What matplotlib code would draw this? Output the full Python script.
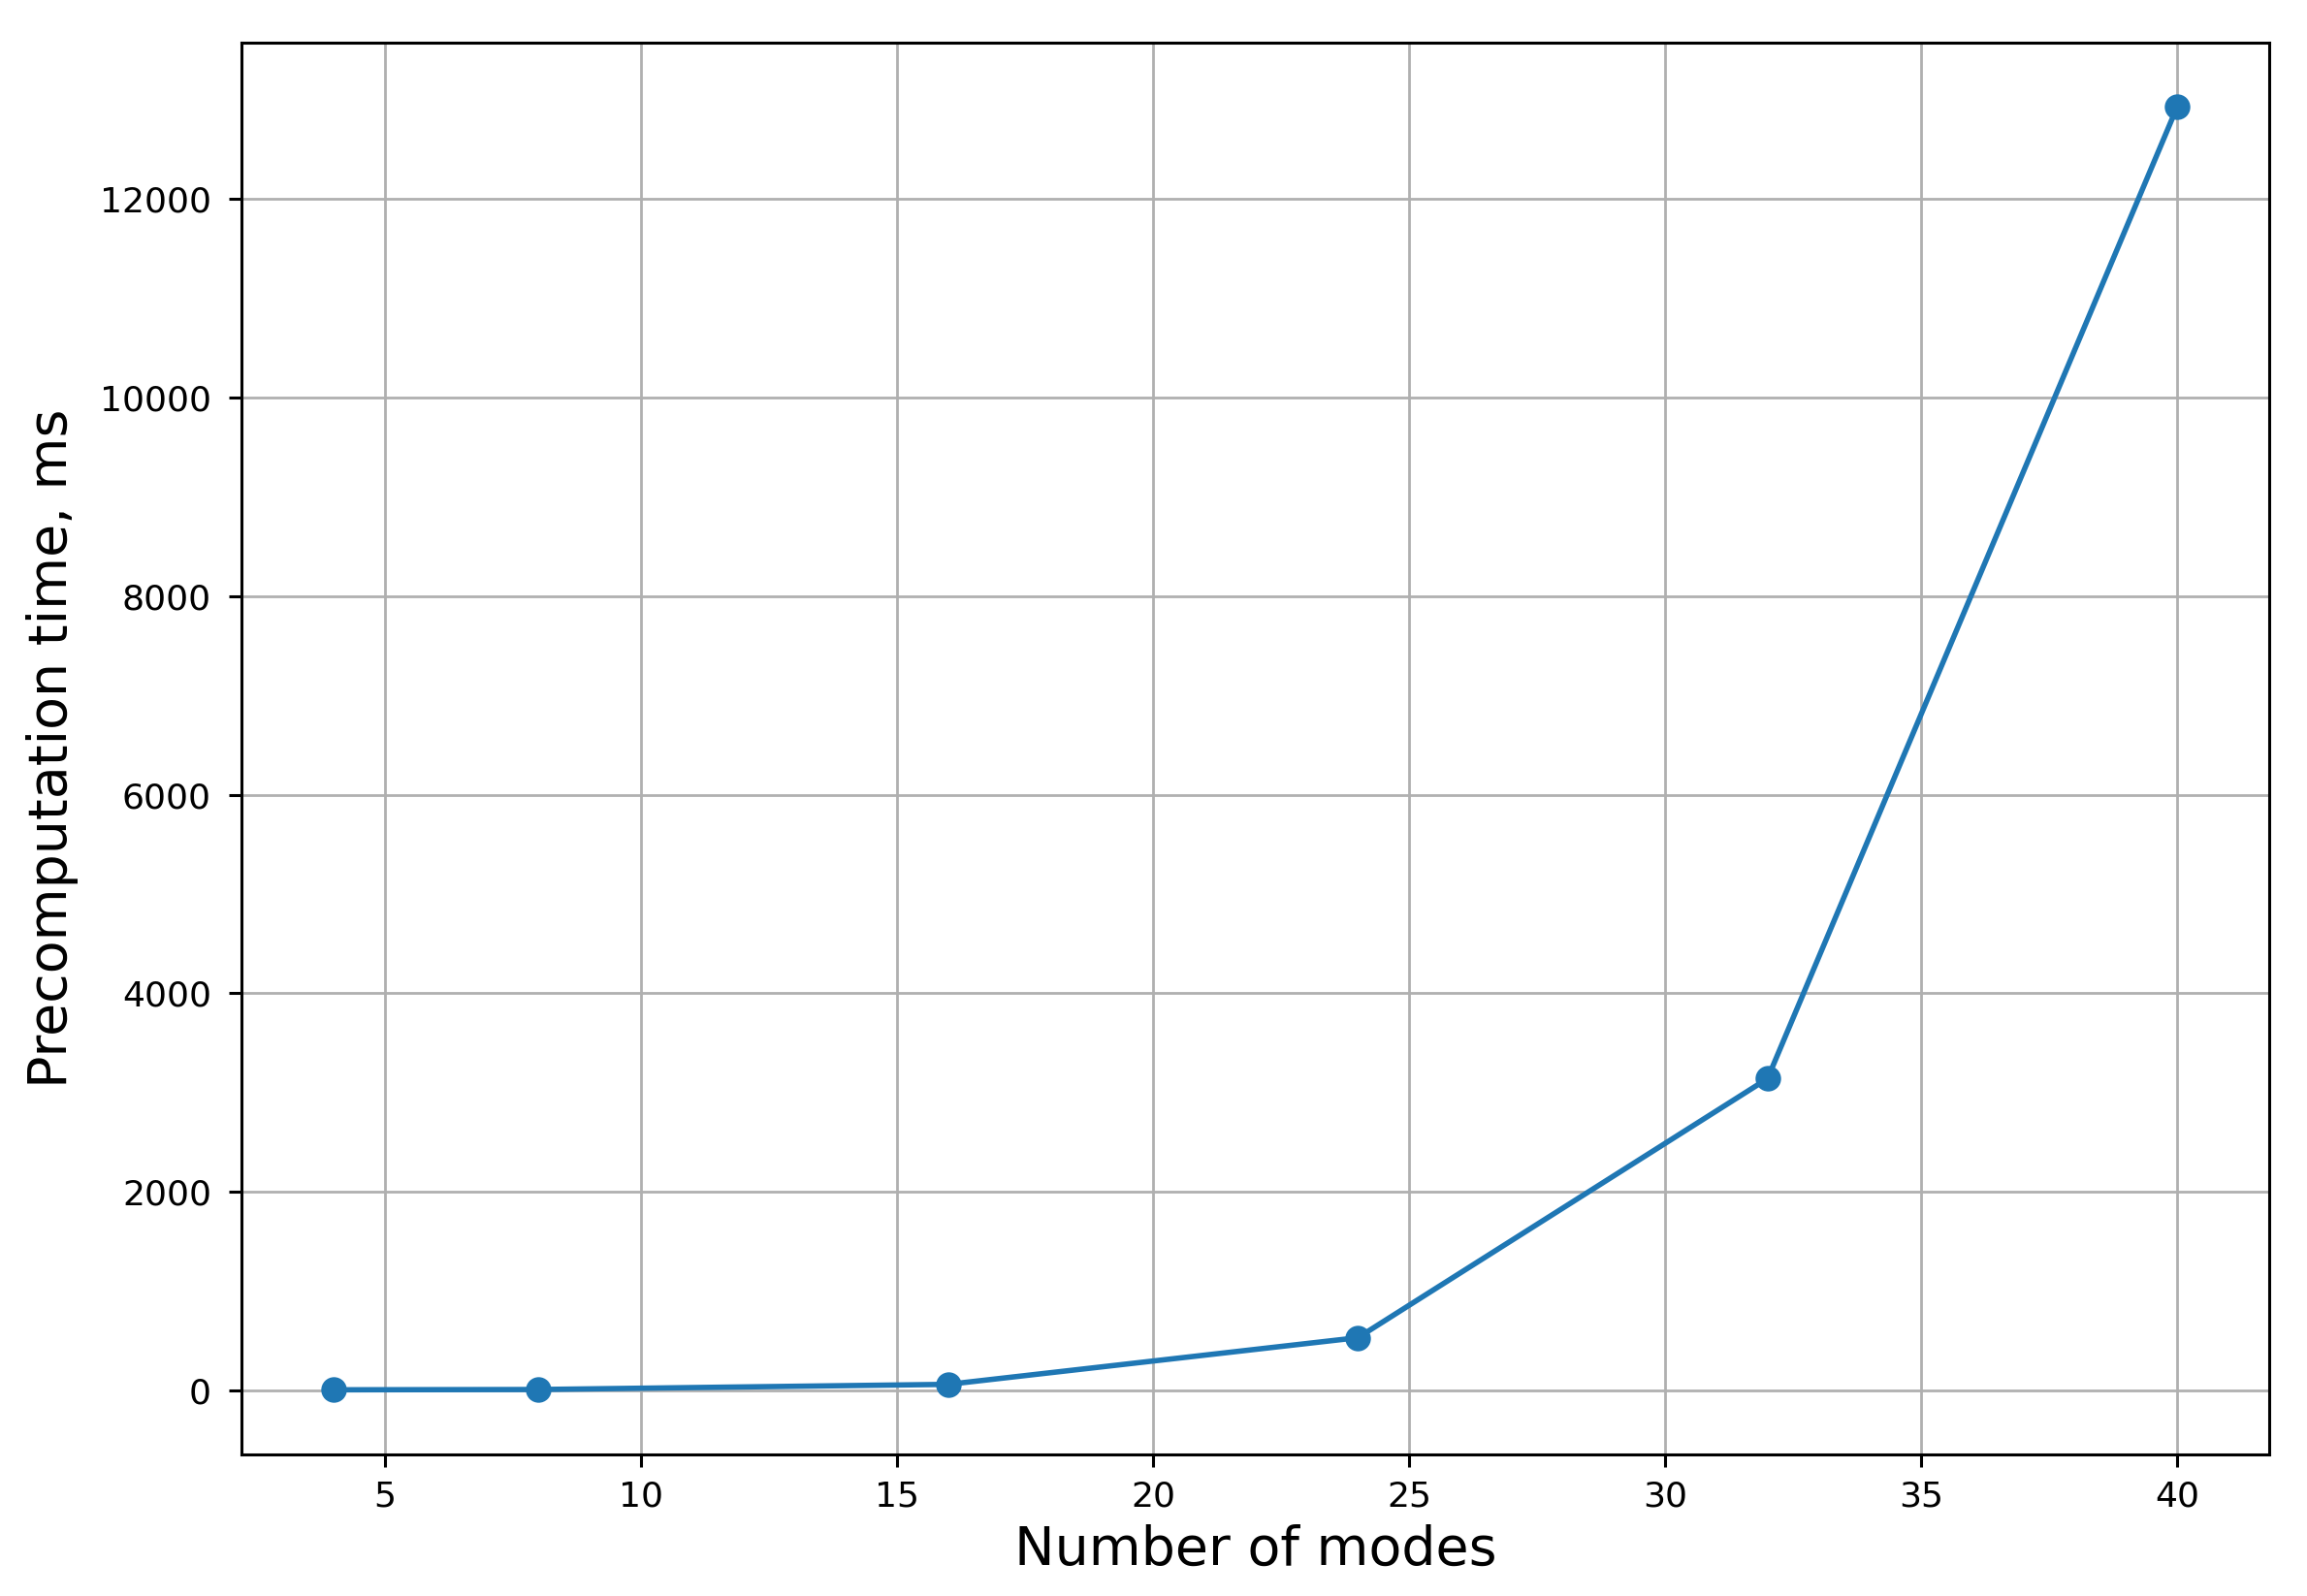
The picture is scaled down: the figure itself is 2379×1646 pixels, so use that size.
import matplotlib
matplotlib.use('Agg')
import matplotlib.pyplot as plt

# number of modes vs precomputation time (ms)
modes = [4, 8, 16, 24, 32, 40]
precomp_ms = [5, 8, 60, 530, 3140, 12930]

fig, ax = plt.subplots(figsize=(11.895, 8.23), dpi=200)
fig.subplots_adjust(left=0.1047, right=0.9837, top=0.9733, bottom=0.089)

ax.plot(modes, precomp_ms, marker='o', color='#1f77b4', linewidth=2.0, markersize=8.5)
ax.grid(True, linewidth=1.0)
ax.set_xlabel('Number of modes', fontsize=20, labelpad=4)
ax.set_ylabel('Precomputation time, ms', fontsize=20, labelpad=8)
ax.tick_params(labelsize=13, width=1.1, length=4.7)
ax.tick_params(axis='y', pad=6.5)
ax.tick_params(axis='x', pad=5)
for sp in ax.spines.values():
    sp.set_linewidth(1.1)

fig.savefig('out.png', dpi=200)
